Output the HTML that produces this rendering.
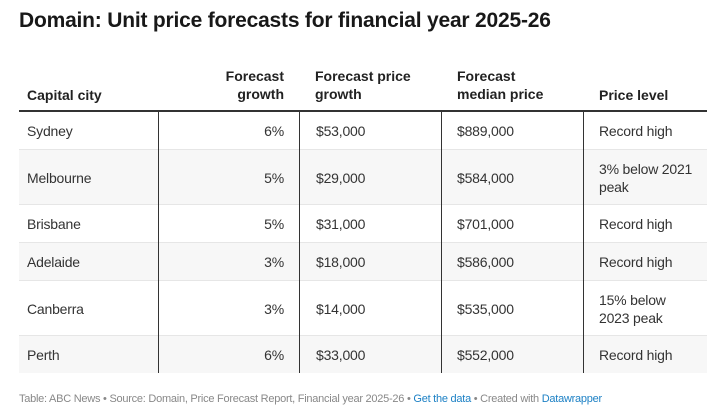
<!DOCTYPE html>
<html><head><meta charset="utf-8"><style>
body{margin:0;width:719px;height:417px;background:#fff;font-family:"Liberation Sans",Arial,sans-serif;color:#333;position:relative;overflow:hidden}
.t{position:absolute;left:19px;top:9px;font-size:21px;font-weight:bold;color:#181818;letter-spacing:-0.2px}
.h{position:absolute;font-size:14px;font-weight:bold;color:#222;line-height:18px}
.row{position:absolute;left:19px;width:688px;border-bottom:1px solid #e6e6e6}
.c{position:absolute;font-size:14px;color:#333;line-height:18px;letter-spacing:-0.2px}
.v{position:absolute;width:1px;background:#333}
.f{position:absolute;left:19px;top:393px;font-size:11px;color:#888;letter-spacing:-0.25px}
.f a{color:#1d81c5;text-decoration:none}
</style></head><body>
<div class="t">Domain: Unit price forecasts for financial year 2025-26</div>
<div class="h" style="left:27px;top:86px">Capital city</div>
<div class="h" style="left:180px;width:104px;text-align:right;top:67px">Forecast<br>growth</div>
<div class="h" style="left:315px;top:67px">Forecast price<br>growth</div>
<div class="h" style="left:457px;top:67px">Forecast<br>median price</div>
<div class="h" style="left:599px;top:86px">Price level</div>
<div style="position:absolute;left:19px;top:110px;width:688px;height:2px;background:#333"></div>

<div class="row" style="top:112px;height:37px;background:#fff"></div>
<div class="row" style="top:150px;height:54px;background:#f7f7f7"></div>
<div class="row" style="top:205px;height:37px;background:#fff"></div>
<div class="row" style="top:243px;height:37px;background:#f7f7f7"></div>
<div class="row" style="top:281px;height:54px;background:#fff"></div>
<div class="row" style="top:336px;height:37px;background:#f7f7f7;border-bottom:none"></div>

<div class="v" style="left:158px;top:112px;height:261px"></div>
<div class="v" style="left:299px;top:112px;height:261px"></div>
<div class="v" style="left:441px;top:112px;height:261px"></div>
<div class="v" style="left:583px;top:112px;height:261px"></div>

<div class="c" style="left:27px;top:122px">Sydney</div>
<div class="c" style="left:180px;width:104px;text-align:right;top:122px">6%</div>
<div class="c" style="left:316px;top:122px">$53,000</div>
<div class="c" style="left:457px;top:122px">$889,000</div>
<div class="c" style="left:599px;top:122px">Record high</div>

<div class="c" style="left:27px;top:169px">Melbourne</div>
<div class="c" style="left:180px;width:104px;text-align:right;top:169px">5%</div>
<div class="c" style="left:316px;top:169px">$29,000</div>
<div class="c" style="left:457px;top:169px">$584,000</div>
<div class="c" style="left:599px;top:160px">3% below 2021<br>peak</div>

<div class="c" style="left:27px;top:215px">Brisbane</div>
<div class="c" style="left:180px;width:104px;text-align:right;top:215px">5%</div>
<div class="c" style="left:316px;top:215px">$31,000</div>
<div class="c" style="left:457px;top:215px">$701,000</div>
<div class="c" style="left:599px;top:215px">Record high</div>

<div class="c" style="left:27px;top:253px">Adelaide</div>
<div class="c" style="left:180px;width:104px;text-align:right;top:253px">3%</div>
<div class="c" style="left:316px;top:253px">$18,000</div>
<div class="c" style="left:457px;top:253px">$586,000</div>
<div class="c" style="left:599px;top:253px">Record high</div>

<div class="c" style="left:27px;top:300px">Canberra</div>
<div class="c" style="left:180px;width:104px;text-align:right;top:300px">3%</div>
<div class="c" style="left:316px;top:300px">$14,000</div>
<div class="c" style="left:457px;top:300px">$535,000</div>
<div class="c" style="left:599px;top:291px">15% below<br>2023 peak</div>

<div class="c" style="left:27px;top:346px">Perth</div>
<div class="c" style="left:180px;width:104px;text-align:right;top:346px">6%</div>
<div class="c" style="left:316px;top:346px">$33,000</div>
<div class="c" style="left:457px;top:346px">$552,000</div>
<div class="c" style="left:599px;top:346px">Record high</div>

<div class="f">Table: ABC News • Source: Domain, Price Forecast Report, Financial year 2025-26 • <a>Get the data</a> • Created with <a>Datawrapper</a></div>
</body></html>
